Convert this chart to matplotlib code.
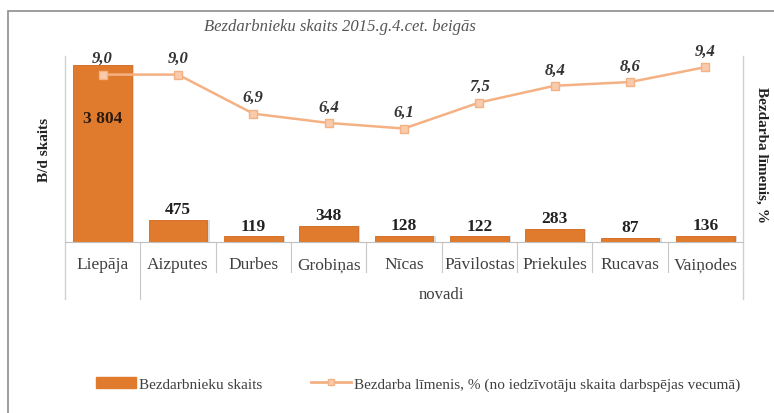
import numpy as np
import matplotlib
matplotlib.use("Agg")
import matplotlib.pyplot as plt
from matplotlib.patches import Rectangle
from matplotlib.lines import Line2D

plt.rcParams['font.family'] = ['Liberation Serif', 'DejaVu Serif']

# data
regions = ["Liepāja", "Aizputes", "Durbes", "Grobiņas", "Nīcas",
           "Pāvilostas", "Priekules", "Rucavas", "Vaiņodes"]
unemployed = [3804, 475, 119, 348, 128, 122, 283, 87, 136]
rate = [9.0, 9.0, 6.9, 6.4, 6.1, 7.5, 8.4, 8.6, 9.4]

bar_col = "#E07A2C"
line_col = "#F4B183"
mark_col = "#F8CBAD"

fig = plt.figure(figsize=(7.74, 4.14), dpi=100)
# outer chart frame
fig.patches.append(Rectangle((8/774, -0.01), 1.0, 1 - 12/414 + 0.01,
                             transform=fig.transFigure, fill=False,
                             edgecolor="#8c8c8c", linewidth=1.2))

ax = fig.add_axes([65/774, 1 - 243/414, (743 - 65)/774, (243 - 57)/414])
x = np.arange(len(regions))

# soft shadow + bars
ax.bar(x + 0.03, unemployed, width=0.78, color="#b9b9b9", alpha=0.5, zorder=1)
bars = ax.bar(x, unemployed, width=0.78, color=bar_col, edgecolor="#d2691e",
              linewidth=0.6, zorder=2)
ax.set_ylim(0, 4000)
ax.set_xlim(-0.5, len(regions) - 0.5)
ax.set_yticks([])
ax.set_xticks([])
for s in ["top", "right"]:
    ax.spines[s].set_visible(False)
ax.spines["left"].set_visible(False)
ax.spines["bottom"].set_color("#bfbfbf")

for i, v in enumerate(unemployed):
    txt = f"{v:,}".replace(",", " ")
    if v > 2000:
        ax.text(i, v * 0.7, txt, ha="center", va="center", fontsize=12.5,
                fontweight="bold", color="#2b1a0e", zorder=5)
    else:
        ax.text(i, v + 60, txt, ha="center", va="bottom", fontsize=12.5,
                fontweight="bold", color="#222222", zorder=5)

ax2 = ax.twinx()
ax2.set_ylim(0, 10)
ax2.set_yticks([])
for s in ["top", "left", "bottom", "right"]:
    ax2.spines[s].set_visible(False)
ax2.plot(x, rate, color=line_col, linewidth=1.8, marker="s", markersize=6,
         markerfacecolor=mark_col, markeredgecolor=line_col, zorder=4)
for i, v in enumerate(rate):
    ax2.text(i, v + 0.45, f"{v:.1f}".replace(".", ","), ha="center", va="bottom",
             fontsize=12, fontweight="bold", style="italic", color="#333333")

# category axis with separators
tr = ax.get_xaxis_transform()
sep_h = -30 / 186
long_h = -57 / 186
for i, name in enumerate(regions):
    ax.text(i, -22 / 186, name, transform=tr, ha="center", va="center",
            fontsize=12.5, color="#404040")
for i in range(1, len(regions)):
    lo = long_h if i == 1 else sep_h
    ax.plot([i - 0.5, i - 0.5], [0, lo], transform=tr, color="#c8c8c8",
            linewidth=0.8, clip_on=False)
# vertical axis lines
ax.plot([-0.5, -0.5], [long_h, 1.0], transform=tr, color="#d0d0d0",
        linewidth=1.0, clip_on=False)
ax.plot([len(regions) - 0.5] * 2, [long_h, 1.0], transform=tr,
        color="#d0d0d0", linewidth=1.0, clip_on=False)
ax.text((len(regions) - 1 + 1) / 2, -52 / 186, "novadi", transform=tr,
        ha="center", va="center", fontsize=12, color="#404040")

fig.text(340/774, 1 - 27/414, "Bezdarbnieku skaits 2015.g.4.cet. beigās",
         ha="center", va="center", fontsize=12, style="italic", color="#555555")
fig.text(45/774, 1 - 150/414, "B/d skaits", rotation=90, ha="center",
         va="center", fontsize=11, fontweight="bold", color="#222222")
fig.text(762/774, 1 - 155/414, "Bezdarba līmenis, %", rotation=270,
         ha="center", va="center", fontsize=11, fontweight="bold",
         color="#222222")

handles = [Rectangle((0, 0), 1, 1, color=bar_col),
           Line2D([], [], color=line_col, linewidth=2, marker="s",
                  markersize=5, markerfacecolor=mark_col,
                  markeredgecolor=line_col)]
labels = ["Bezdarbnieku skaits",
          "Bezdarba līmenis, % (no iedzīvotāju skaita darbspējas vecumā)"]
leg = fig.legend(handles, labels, loc="center", bbox_to_anchor=(418/774, 1 - 385/414),
                 ncol=2, frameon=False, fontsize=11, handlelength=2.6,
                 handletextpad=0.2, columnspacing=3.2)
for t in leg.get_texts():
    t.set_color("#404040")

fig.savefig("out.png", dpi=100)
